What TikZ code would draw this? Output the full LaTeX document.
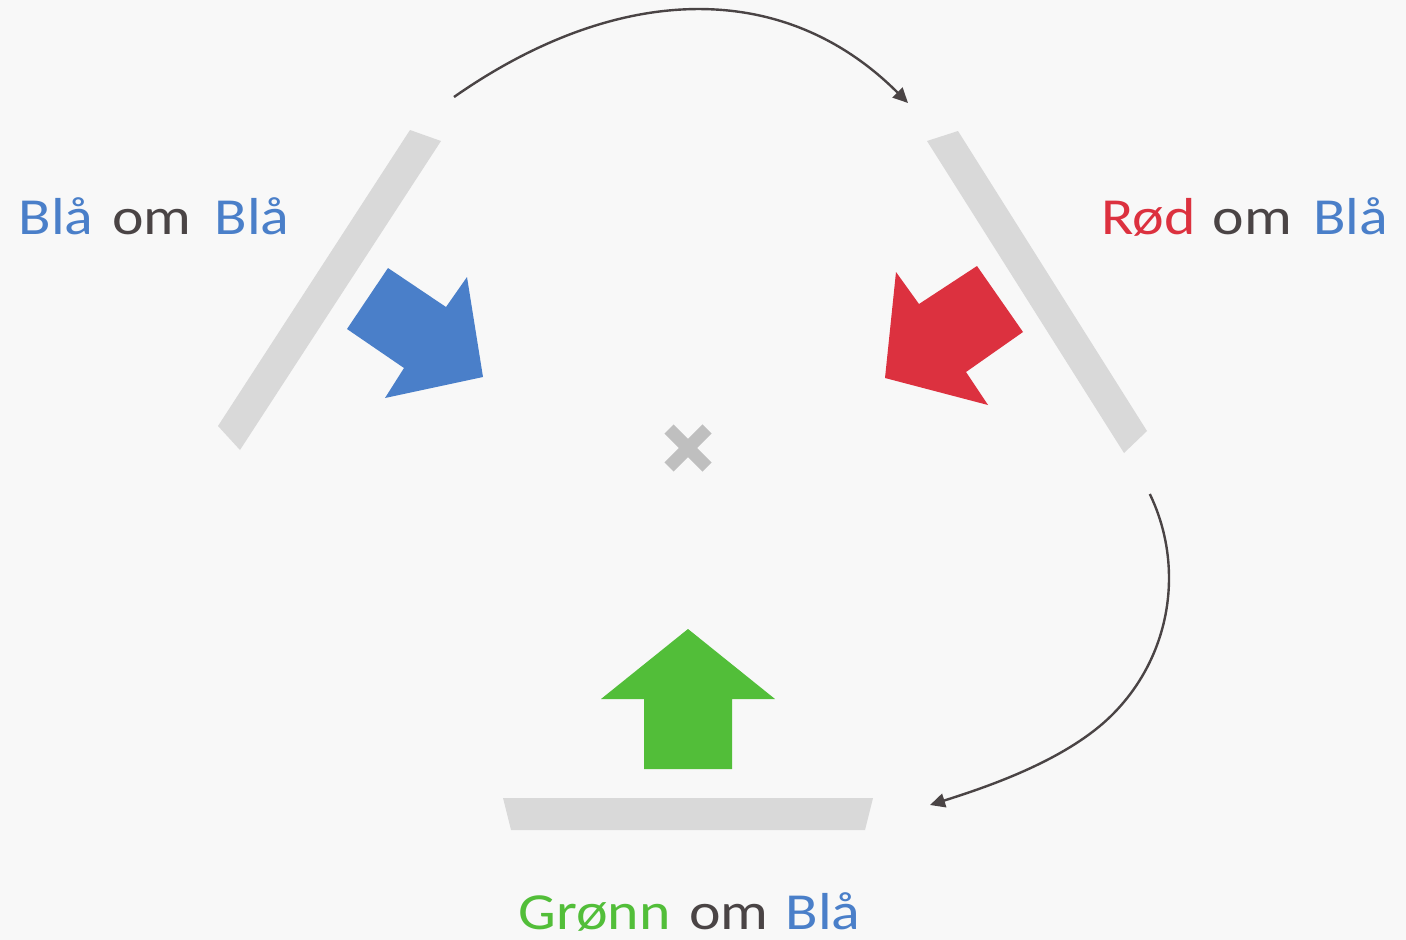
\documentclass[tikz,border=0pt]{standalone}
\usepackage{fontspec}
\setmainfont{Carlito}
\usetikzlibrary{arrows.meta}
\definecolor{bg}{HTML}{F8F8F8}
\definecolor{barc}{HTML}{D9D9D9}
\definecolor{crossc}{HTML}{BFBFBF}
\definecolor{bluec}{HTML}{4A7FC9}
\definecolor{redc}{HTML}{DC313F}
\definecolor{greenc}{HTML}{52BE39}
\definecolor{darkc}{HTML}{4A4445}
\tikzset{
  bar/.style={fill=barc, draw=none},
  flow/.style={draw=darkc, line width=2.4pt, -{Triangle[length=15pt,width=14pt]}},
  word/.style={inner sep=0pt, anchor=base, xscale=1.15, font=\fontsize{52}{60}\selectfont},
}
\begin{document}
\begin{tikzpicture}[x=1pt,y=-1pt]
\fill[bg] (0,0) rectangle (1406,940);
\useasboundingbox (0,0) rectangle (1406,940);
% bars
\fill[bar] (410,130) -- (441,141) -- (240,450) -- (218,426) -- cycle;
\fill[bar] (927,141) -- (958,131) -- (1147,431) -- (1124,453) -- cycle;
\fill[bar] (503,798) -- (873,798) -- (865,830) -- (511,830) -- cycle;
% big arrows
\fill[bluec] (388,268) -- (446,307) -- (467,277) -- (483,377) -- (385,398) -- (404,368) -- (347,329) -- cycle;
\fill[redc] (977,266) -- (1023,332) -- (966,372) -- (988,405) -- (885,378) -- (896,272) -- (919,304) -- cycle;
\fill[greenc] (688,629) -- (775,699) -- (732,699) -- (732,769) -- (644,769) -- (644,699) -- (601,699) -- cycle;
% cross
\draw[crossc, line width=13pt] (669,429) -- (707,467);
\draw[crossc, line width=13pt] (707,429) -- (669,467);
% labels
\node[word, text=bluec] (l1a) at (56,234) {Blå};
\node[word, text=darkc] (l1b) at (151.7,234) {om};
\node[word, text=bluec] (l1c) at (252,234) {Blå};
\node[word, text=redc] (l2a) at (1148.5,234) {Rød};
\node[word, text=darkc] (l2b) at (1252.5,234) {om};
\node[word, text=bluec] (l2c) at (1350.5,234) {Blå};
\node[word, text=greenc] (l3a) at (594.7,929) {Grønn};
\node[word, text=darkc] (l3b) at (729,929) {om};
\node[word, text=bluec] (l3c) at (823,929) {Blå};
% connectors
\coordinate (a1) at (454,97);
\coordinate (a2) at (908,103);
\coordinate (b1) at (1149.8,494);
\coordinate (bm) at (1169,578);
\coordinate (bn) at (1102.6,723.7);
\coordinate (b2) at (930,805);
\draw[flow] (a1) .. controls (614,-15) and (781,-24) .. (a2);
\draw[flow] (b1) .. controls (1162.5,520.2) and (1169,549) .. (bm)
  .. controls (1169,634) and (1144.8,687) .. (bn)
  .. controls (1057,763) and (987,787) .. (b2);
\end{tikzpicture}
\end{document}
